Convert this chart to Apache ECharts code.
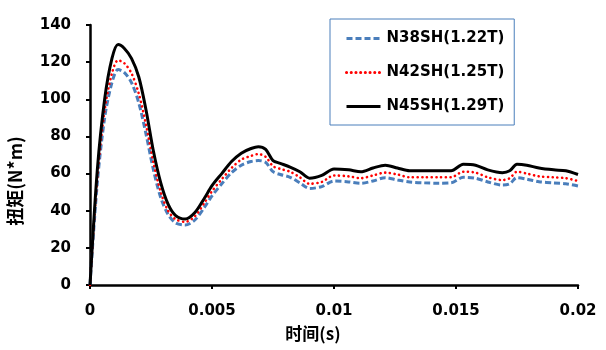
<!DOCTYPE html>
<html><head><meta charset="utf-8">
<script src="https://cdn.jsdelivr.net/npm/echarts@6/dist/echarts.min.js"></script>
<style>html,body{margin:0;padding:0;background:#fff}#c{width:606px;height:350px}</style>
</head><body><div id="c"></div>
<script>
const seriesNames = ['N38SH(1.22T)', 'N42SH(1.25T)', 'N45SH(1.29T)'];
const times = [0, 0.0003, 0.0006, 0.0009, 0.00115, 0.0014, 0.0017, 0.002, 0.0023, 0.0026, 0.0029, 0.0032, 0.0035, 0.0039, 0.0043, 0.0047, 0.005, 0.0054, 0.0058, 0.0062, 0.0066, 0.0069, 0.0072, 0.0075, 0.0078, 0.0082, 0.0086, 0.009, 0.0095, 0.01, 0.0106, 0.0111, 0.0116, 0.0121, 0.0126, 0.0131, 0.0137, 0.0143, 0.0148, 0.0153, 0.0158, 0.0163, 0.0169, 0.0172, 0.0175, 0.0179, 0.0184, 0.019, 0.0195, 0.02];
const n38 = [0, 55, 90, 109, 116, 114.5, 109, 98, 81, 62, 47, 38, 33.5, 32.3, 35, 42, 48, 54.5, 60.5, 64.5, 66.5, 67, 66, 61, 59.5, 58, 55, 52, 53, 56, 55.5, 54.8, 56, 57.8, 56.5, 55.5, 55, 54.8, 55, 58, 57.5, 55.5, 53.8, 54.5, 57.8, 57, 55.6, 55, 54.5, 53.3];
const n42 = [0, 58, 94, 114, 121, 119.5, 114, 103, 86, 66, 50, 40, 35.5, 34, 37, 44.5, 50.5, 57, 63, 67.5, 69.5, 70.5, 69, 64, 62.5, 61, 58, 54.5, 55.5, 59, 58.5, 57.5, 59, 60.5, 59.5, 58, 58, 58, 58, 61, 60.5, 58, 56.5, 57.5, 61, 60, 58.5, 58, 57.5, 56];
const n45 = [0, 62, 100, 122, 129.5, 127.5, 122, 112, 94, 72, 55, 43.5, 37.5, 35.5, 39, 47, 53.5, 60, 66.5, 71, 73.5, 74.5, 73, 67, 65.5, 63.5, 61, 57.5, 59, 62.5, 62, 61, 63, 64.5, 63, 61.5, 61.5, 61.5, 61.5, 65, 64.5, 62, 60.5, 61.5, 65, 64.5, 63, 62, 61.5, 59.5];
const xTitle = '时间(s)';
const yTitle = '扭矩(N*m)';

const pair = arr => times.map((t, i) => [t, arr[i]]);
const chart = echarts.init(document.getElementById('c'), null, {renderer: 'canvas'});
const lblFont = {fontFamily: 'DejaVu Sans', fontWeight: 'bold', fontSize: 15, color: '#000'};
chart.setOption({
  animation: false,
  backgroundColor: '#fff',
  grid: {left: 90, right: 28, top: 25, bottom: 65, containLabel: false},
  legend: {
    orient: 'vertical', left: 330, top: 19,
    width: 189, height: 100,
    borderColor: '#4a7ebb', borderWidth: 1,
    padding: [12, 10, 11, 15],
    itemWidth: 34, itemHeight: 12, itemGap: 19,
    itemStyle: {opacity: 0},
    lineStyle: {width: 3},
    textStyle: {fontFamily: 'DejaVu Sans', fontWeight: 'bold', fontSize: 15, color: '#000', padding: [0, 0, 0, 1]},
    data: seriesNames
  },
  xAxis: {
    type: 'value', min: 0, max: 0.02, interval: 0.005,
    axisLine: {lineStyle: {color: '#000', width: 2.5}},
    axisTick: {show: true, length: 4, lineStyle: {color: '#000', width: 2}},
    splitLine: {show: false},
    axisLabel: Object.assign({margin: 19, formatter: v => String(v)}, lblFont)
  },
  yAxis: {
    type: 'value', min: 0, max: 140, interval: 20,
    axisLine: {show: true, lineStyle: {color: '#000', width: 2.5}},
    axisTick: {show: true, length: 4, lineStyle: {color: '#000', width: 2}},
    splitLine: {show: false},
    axisLabel: Object.assign({margin: 19}, lblFont)
  },
  graphic: [
    {type: 'text', style: {text: xTitle, x: 313, y: 334, align: 'center', verticalAlign: 'middle', font: 'bold 17px "Noto Sans CJK SC"', fill: '#000'}},
    {type: 'text', x: 15, y: 181, rotation: Math.PI / 2, style: {text: yTitle, x: 0, y: 0, align: 'center', verticalAlign: 'middle', font: 'bold 18px "Noto Sans CJK SC"', fill: '#000'}}
  ],
  series: [
    {name: seriesNames[0], type: 'line', smooth: 0.3, symbol: 'none', data: pair(n38), z: 2,
     lineStyle: {color: '#4a7ebb', width: 3, type: [6, 3]}, itemStyle: {color: '#4a7ebb'}},
    {name: seriesNames[1], type: 'line', smooth: 0.3, symbol: 'none', data: pair(n42), z: 3,
     lineStyle: {color: '#ff0000', width: 2.6, type: [0.1, 4.6], cap: 'round'}, itemStyle: {color: '#ff0000'}},
    {name: seriesNames[2], type: 'line', smooth: 0.3, symbol: 'none', data: pair(n45), z: 4,
     lineStyle: {color: '#000', width: 3}, itemStyle: {color: '#000'}}
  ]
});
</script></body></html>
